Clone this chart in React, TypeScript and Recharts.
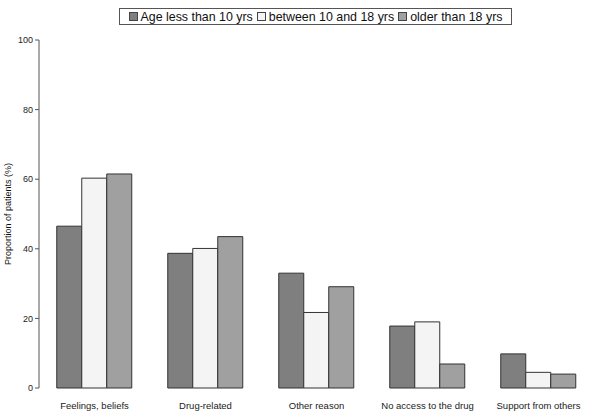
import { Bar, BarChart, XAxis, YAxis } from 'recharts';

// Reasons for non-adherence by age group. (%).

const categories = ['Feelings, beliefs', 'Drug-related', 'Other reason', 'No access to the drug', 'Support from others'];
const under10 = [46.5, 38.7, 33.0, 17.8, 9.8];
const from10to18 = [60.3, 40.1, 21.7, 19.0, 4.5];
const over18 = [61.5, 43.5, 29.1, 6.9, 4.0];
const yTicks = [0, 20, 40, 60, 80, 100];

const SERIES = [
  { key: 'under10', name: 'Age less than 10 yrs', fill: '#7f7f7f' },
  { key: 'from10to18', name: 'between 10 and 18 yrs', fill: '#f4f4f4' },
  { key: 'over18', name: 'older than 18 yrs', fill: '#a0a0a0' },
];

const data = categories.map((c, i) => ({
  category: c,
  idx: i + 0.5,
  under10: under10[i],
  from10to18: from10to18[i],
  over18: over18[i],
}));

const FONT = 'Liberation Sans, Arial, sans-serif';

function LegendBox() {
  return (
    <div
      style={{
        position: 'absolute',
        top: 8,
        left: 119,
        width: 393,
        height: 17,
        boxSizing: 'border-box',
        border: '1px solid #555',
        background: '#fff',
        display: 'flex',
        alignItems: 'center',
        justifyContent: 'center',
        fontFamily: FONT,
        fontSize: 12.4,
        color: '#111',
        whiteSpace: 'nowrap',
      }}
    >
      {SERIES.map((s, i) => (
        <span
          key={s.key}
          style={{ display: 'inline-flex', alignItems: 'center', marginRight: i < SERIES.length - 1 ? 4 : 0 }}
        >
          <span
            style={{
              display: 'inline-block',
              width: 7,
              height: 7,
              border: '1px solid #444',
              background: s.fill,
              marginRight: 3,
            }}
          />
          {s.name}
        </span>
      ))}
    </div>
  );
}

export default function App() {
  return (
    <div style={{ position: 'absolute', left: 0, top: 0, width: 600, height: 413, background: '#fff' }}>
      <BarChart
        width={600}
        height={413}
        data={data}
        margin={{ top: 40, right: 6, bottom: 0, left: 0 }}
        barCategoryGap="16%"
        barGap={0}
      >
        {/* boundary ticks between categories */}
        <XAxis
          xAxisId="ticks"
          dataKey="idx"
          type="number"
          domain={[0, 5]}
          ticks={[0, 1, 2, 3, 4, 5]}
          tick={false}
          tickSize={4}
          tickLine={{ stroke: '#555' }}
          axisLine={{ stroke: '#555' }}
          height={0}
        />
        <XAxis
          dataKey="category"
          axisLine={false}
          tickLine={false}
          tickMargin={8}
          height={25}
          interval={0}
          tick={{ fontSize: 9.5, fill: '#222', fontFamily: FONT }}
        />
        <YAxis
          width={39}
          domain={[0, 100]}
          ticks={yTicks}
          tickSize={4}
          tickMargin={2}
          axisLine={{ stroke: '#555' }}
          tickLine={{ stroke: '#555' }}
          tick={{ fontSize: 9, fill: '#222', fontFamily: FONT }}
          label={{
            value: 'Proportion of patients (%)',
            angle: -90,
            position: 'insideLeft',
            offset: 8,
            style: { fontSize: 9, fill: '#111', fontFamily: FONT, textAnchor: 'middle' },
          }}
        />
        {SERIES.map((s) => (
          <Bar
            key={s.key}
            dataKey={s.key}
            name={s.name}
            fill={s.fill}
            stroke="#333"
            strokeWidth={1}
            isAnimationActive={false}
          />
        ))}
      </BarChart>
      <LegendBox />
    </div>
  );
}
